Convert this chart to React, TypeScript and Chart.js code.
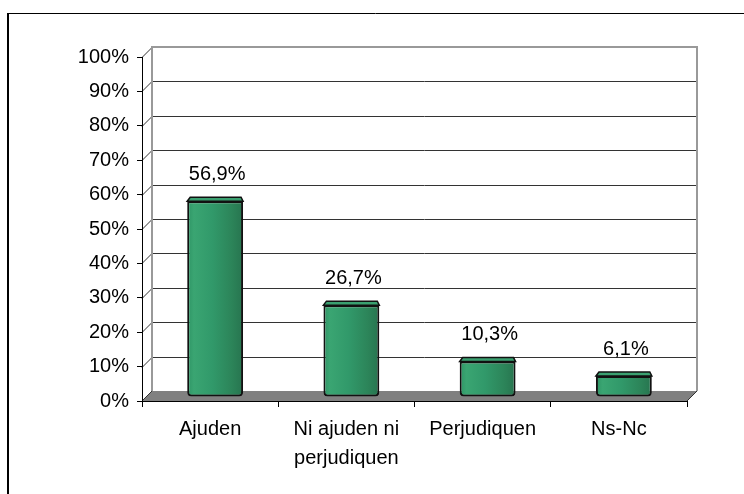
import { useEffect, useRef } from 'react';
import { Chart, registerables } from 'chart.js';

Chart.register(...registerables);

const categories: (string | string[])[] = ['Ajuden', ['Ni ajuden ni', 'perjudiquen'], 'Perjudiquen', 'Ns-Nc'];
const values: number[] = [56.9, 26.7, 10.3, 6.1];
const yMin = 0;
const yMax = 100;
const yStep = 10;

const DEPTH = 10;
const BAR_DX = 5;
const BAR_DY = -4;
const FONT = "'Liberation Sans', Arial, sans-serif";

const fmt = (v: number) => v.toFixed(1).replace('.', ',') + '%';

const wallPlugin = {
  id: 'wall3d',
  beforeDraw(chart: any) {
    const { ctx, chartArea: a, scales } = chart;
    const y = scales.y;
    ctx.save();
    // outer frame
    ctx.strokeStyle = '#000';
    ctx.lineWidth = 1;
    ctx.beginPath();
    ctx.moveTo(7, 13.5);
    ctx.lineTo(744, 13.5);
    ctx.stroke();
    ctx.lineWidth = 2;
    ctx.beginPath();
    ctx.moveTo(8, 13);
    ctx.lineTo(8, 494);
    ctx.stroke();

    const L = a.left, R = a.right, B = a.bottom, T = a.top;
    // floor
    ctx.fillStyle = '#808080';
    ctx.beginPath();
    ctx.moveTo(L, B);
    ctx.lineTo(L + DEPTH, B - DEPTH);
    ctx.lineTo(R + DEPTH, B - DEPTH);
    ctx.lineTo(R, B);
    ctx.closePath();
    ctx.fill();
    ctx.strokeStyle = '#333';
    ctx.lineWidth = 1;
    ctx.beginPath();
    ctx.moveTo(R, B);
    ctx.lineTo(R + DEPTH, B - DEPTH);
    ctx.stroke();

    // gridlines on back wall + left wall
    ctx.strokeStyle = '#333';
    ctx.lineWidth = 1;
    for (const t of y.ticks) {
      const py = Math.round(y.getPixelForValue(t.value)) + 0.5;
      if (t.value === yMin) continue;
      ctx.beginPath();
      ctx.moveTo(L + DEPTH, py - DEPTH);
      ctx.lineTo(R + DEPTH, py - DEPTH);
      ctx.stroke();
      ctx.beginPath();
      ctx.moveTo(L, py);
      ctx.lineTo(L + DEPTH, py - DEPTH);
      ctx.stroke();
    }
    ctx.beginPath();
    ctx.moveTo(L, B);
    ctx.lineTo(L + DEPTH, B - DEPTH);
    ctx.stroke();

    // wall edges
    ctx.strokeStyle = '#999';
    ctx.lineWidth = 2;
    ctx.beginPath();
    ctx.moveTo(L + DEPTH, B - DEPTH);
    ctx.lineTo(L + DEPTH, T - DEPTH);
    ctx.lineTo(R + DEPTH, T - DEPTH);
    ctx.lineTo(R + DEPTH, B - DEPTH);
    ctx.stroke();
    ctx.restore();
  },
  beforeDatasetsDraw(chart: any) {
    chart.ctx.save();
    chart.ctx.translate(BAR_DX, BAR_DY);
  },
  afterDatasetsDraw(chart: any) {
    const { ctx } = chart;
    const meta = chart.getDatasetMeta(0);
    meta.data.forEach((bar: any, i: number) => {
      const w = bar.width;
      const l = bar.x - w / 2;
      const r = bar.x + w / 2;
      const top = bar.y;
      ctx.fillStyle = '#3aa070';
      ctx.strokeStyle = '#111';
      ctx.lineWidth = 1.5;
      ctx.beginPath();
      ctx.moveTo(l, top);
      ctx.lineTo(l + 3, top - 4);
      ctx.lineTo(r - 2, top - 4);
      ctx.lineTo(r, top);
      ctx.closePath();
      ctx.fill();
      ctx.stroke();
      ctx.fillStyle = '#000';
      ctx.font = `20px ${FONT}`;
      ctx.textAlign = 'center';
      ctx.textBaseline = 'middle';
      ctx.fillText(fmt(values[i]), bar.x + 2, top - 27);
    });
    ctx.restore();
  },
};

export default function App() {
  const ref = useRef<HTMLCanvasElement>(null);
  useEffect(() => {
    document.body.style.margin = '0';
    const canvas = ref.current!;
    const chart = new Chart(canvas, {
      type: 'bar',
      data: {
        labels: categories as any,
        datasets: [
          {
            data: values,
            backgroundColor: (c: any) => {
              const ch = c.chart;
              const xs = ch.scales?.x;
              if (!ch.chartArea || !xs) return '#2f9466';
              const cx = xs.getPixelForValue(c.dataIndex);
              const w = (xs.width / categories.length) * 0.41;
              const g = ch.ctx.createLinearGradient(cx - w / 2, 0, cx + w / 2, 0);
              g.addColorStop(0, '#2e9465');
              g.addColorStop(0.12, '#3aa572');
              g.addColorStop(0.45, '#31996a');
              g.addColorStop(0.8, '#2c8459');
              g.addColorStop(1, '#27744f');
              return g;
            },
            borderColor: '#111',
            borderWidth: 2,
            borderSkipped: false,
            borderRadius: { topLeft: 0, topRight: 0, bottomLeft: 4, bottomRight: 4 },
            barPercentage: 0.41,
            categoryPercentage: 1,
          },
        ],
      },
      options: {
        animation: false,
        responsive: false,
        devicePixelRatio: 1,
        layout: { padding: { top: 57, right: 57, left: 0, bottom: 0 } },
        plugins: { legend: { display: false }, tooltip: { enabled: false } },
        scales: {
          x: {
            afterFit: (s: any) => {
              s.height = 93;
            },
            grid: { drawOnChartArea: false, drawTicks: true, tickLength: 6, color: '#000', offset: true },
            border: { color: '#000', width: 1 },
            ticks: { color: '#000', font: { family: FONT, size: 20, lineHeight: 1.45 }, padding: 8, maxRotation: 0, autoSkip: false },
          },
          y: {
            min: yMin,
            max: yMax,
            afterFit: (s: any) => {
              s.width = 142;
            },
            grid: { drawOnChartArea: false, drawTicks: true, tickLength: 5, color: '#000' },
            border: { color: '#000', width: 1 },
            ticks: {
              stepSize: yStep,
              color: '#000',
              padding: 8,
              font: { family: FONT, size: 20 },
              callback: (v: any) => `${v}%`,
            },
          },
        },
      },
      plugins: [wallPlugin],
    });
    return () => chart.destroy();
  }, []);
  return (
    <div style={{ width: 744, height: 494 }}>
      <canvas ref={ref} width={744} height={494} style={{ display: 'block' }} />
    </div>
  );
}
